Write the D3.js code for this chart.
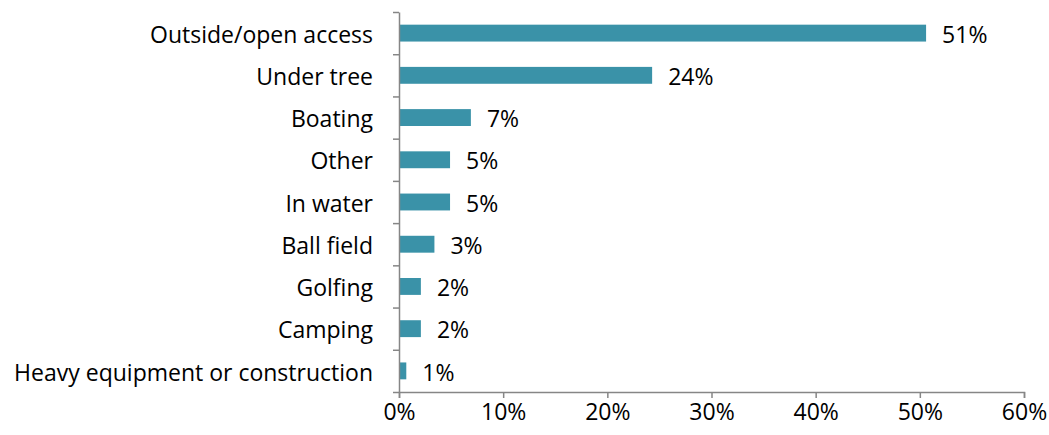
<!DOCTYPE html>
<html>
<head>
<meta charset="utf-8">
<script src="https://cdn.jsdelivr.net/npm/d3@7"></script>
<style>
  html, body { margin: 0; padding: 0; background: #fff; }
  svg text { font-family: "Open Sans", "Noto Sans", sans-serif; fill: #000; }
</style>
</head>
<body>
<svg id="chart" width="1049" height="435"></svg>
<script>
// Share of responses by location (percent)
const categories = [
  "Outside/open access",
  "Under tree",
  "Boating",
  "Other",
  "In water",
  "Ball field",
  "Golfing",
  "Camping",
  "Heavy equipment or construction"
];
const values = [50.6, 24.3, 6.9, 4.9, 4.9, 3.4, 2.1, 2.1, 0.7];
const valueLabels = ["51%", "24%", "7%", "5%", "5%", "3%", "2%", "2%", "1%"];
const xTicks = [0, 10, 20, 30, 40, 50, 60];

const margin = { top: 12, right: 25, bottom: 43, left: 399 };
const width = 1049, height = 435;
const innerW = width - margin.left - margin.right;
const innerH = height - margin.top - margin.bottom;
const fontSize = "23px";

const svg = d3.select("#chart");
const g = svg.append("g").attr("transform", `translate(${margin.left},${margin.top})`);

const x = d3.scaleLinear().domain([0, 60]).range([0, innerW]);
const y = d3.scaleBand().domain(categories).range([0, innerH]).paddingInner(0.6).paddingOuter(0.3);
// category boundaries for tick marks between bars
const yEdge = d3.scaleLinear().domain([0, categories.length]).range([0, innerH]);

const axisColor = "#868686";

// bars
g.selectAll("rect.bar")
  .data(values)
  .join("rect")
  .attr("class", "bar")
  .attr("x", x(0))
  .attr("y", (d, i) => y(categories[i]))
  .attr("width", d => x(d) - x(0))
  .attr("height", y.bandwidth())
  .attr("fill", "#3a92a8");

// value labels
g.selectAll("text.val")
  .data(values)
  .join("text")
  .attr("class", "val")
  .attr("x", d => x(d) + 16)
  .attr("y", (d, i) => y(categories[i]) + y.bandwidth() / 2)
  .attr("dy", "0.42em")
  .style("font-size", fontSize)
  .text((d, i) => valueLabels[i]);

// x axis
const xAxis = g.append("g")
  .attr("transform", `translate(0,${innerH})`)
  .call(d3.axisBottom(x).tickValues(xTicks).tickFormat(d => d + "%").tickSize(6).tickPadding(6));
xAxis.select(".domain").attr("stroke", axisColor).attr("stroke-width", 1.5);
xAxis.selectAll(".tick line").attr("stroke", axisColor).attr("stroke-width", 1.5);
xAxis.selectAll(".tick text").style("font-size", fontSize).attr("fill", "#000");

// y axis: tick marks at category boundaries
const yAxisTicks = g.append("g")
  .call(d3.axisLeft(yEdge).tickValues(d3.range(categories.length + 1)).tickFormat("").tickSize(6).tickSizeOuter(0));
yAxisTicks.select(".domain").attr("stroke", axisColor).attr("stroke-width", 1.5);
yAxisTicks.selectAll(".tick line").attr("stroke", axisColor).attr("stroke-width", 1.5);

// y axis category labels
const yAxisLabels = g.append("g")
  .call(d3.axisLeft(y).tickSize(0).tickPadding(26));
yAxisLabels.select(".domain").remove();
yAxisLabels.selectAll(".tick text").attr("dy", "0.42em").style("font-size", fontSize).attr("fill", "#000");
</script>
</body>
</html>
